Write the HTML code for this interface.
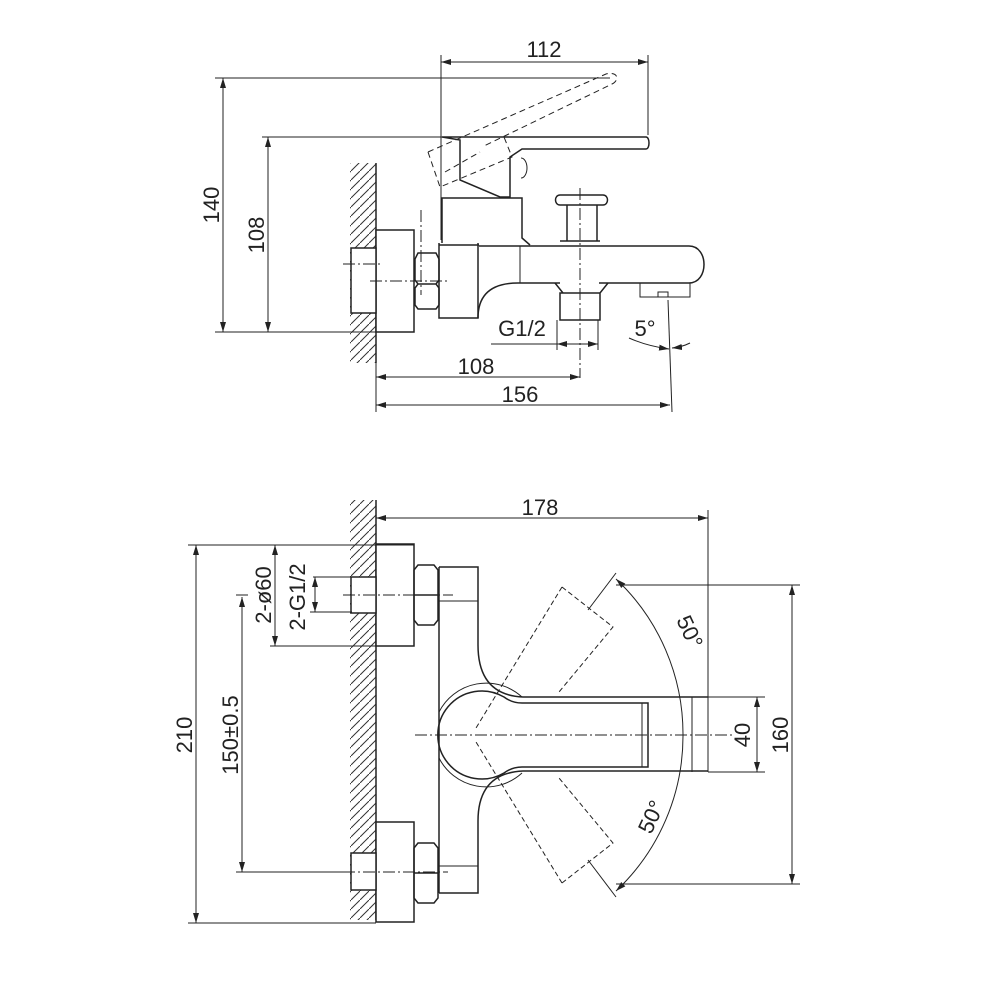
<!DOCTYPE html>
<html><head><meta charset="utf-8"><style>html,body{margin:0;padding:0;background:#fff}svg{display:block}</style></head><body>
<svg width="1000" height="1000" viewBox="0 0 1000 1000" xmlns="http://www.w3.org/2000/svg" font-family="Liberation Sans, sans-serif" font-size="22" fill="none" stroke="#222">
<defs>
<marker id="a" viewBox="0 0 10 6" refX="10" refY="3" markerWidth="10" markerHeight="6" orient="auto-start-reverse"><path d="M0,0L10,3L0,6z" fill="#222" stroke="none"/></marker>
<pattern id="h" width="9" height="9" patternUnits="userSpaceOnUse"><path d="M-1,10L10,-1" stroke="#333" stroke-width="1"/></pattern>
</defs>
<g stroke-width="1">
<!-- TOP VIEW -->
<rect x="350" y="163" width="26" height="200" fill="url(#h)" stroke="none"/>
<line x1="376" y1="163" x2="376" y2="363" stroke-width="1.5"/>
<rect x="376" y="230" width="38" height="102" fill="#fff" stroke-width="1.5"/>
<rect x="351" y="248" width="25" height="65" fill="#fff" stroke-width="1.5"/>
<path d="M418,253h18l3,6v21l-3,4h-18l-3,-4v-21zM418,284h18l3,4v17l-3,4h-18l-3,-4v-17z" stroke-width="1.5"/>
<path d="M439,243v75h39v-75M442,243v-45h80v40l8,7" stroke-width="1.5"/>
<path d="M439,245h40M478,318c0,-25 15,-35 40,-35h42" stroke-width="1.5"/>
<path d="M479,246h210c20,0 20,37 0,37h-90" stroke-width="1.5"/>
<path d="M520,246v37" />
<path d="M442,137h204c4,0 4,12 0,12h-124l-12,8v40h-10l-40,-17v-40z" stroke-width="1.5"/>
<path d="M521,158a6,10 0 0 1 0,20"/>
<path d="M560,195h43c6,0 6,10 0,10h-43c-6,0 -6,-10 0,-10zM567,205v36h30v-36M560,241h40" stroke-width="1.5"/>
<path d="M555,283l8,10h37l8,-10M560,293h40v27h-40z" stroke-width="1.5"/>
<path d="M640,283v14h50v-14M658,297v-5h10v5"/>
<path d="M428,152l178,-78c12,-3 14,6 6,10l-128,62M428,152l12,35l72,-30l-8,-20M445,172l35,-20" stroke-dasharray="6,4"/>
<path d="M343,264h40M370,281h80M421,210v85M580,188v190" stroke-dasharray="12,3,2,3"/>
<line x1="441" y1="55" x2="441" y2="240"/>
<line x1="648" y1="55" x2="648" y2="135"/>
<line x1="441" y1="62" x2="648" y2="62" marker-start="url(#a)" marker-end="url(#a)"/>
<text x="544" y="57" text-anchor="middle" fill="#222" stroke="none">112</text>
<line x1="215" y1="78" x2="610" y2="78"/>
<line x1="215" y1="332" x2="376" y2="332"/>
<line x1="262" y1="137" x2="442" y2="137"/>
<line x1="223" y1="78" x2="223" y2="332" marker-start="url(#a)" marker-end="url(#a)"/>
<line x1="268" y1="137" x2="268" y2="332" marker-start="url(#a)" marker-end="url(#a)"/>
<text transform="translate(219,205) rotate(-90)" text-anchor="middle" fill="#222" stroke="none">140</text>
<text transform="translate(264,235) rotate(-90)" text-anchor="middle" fill="#222" stroke="none">108</text>
<line x1="376" y1="332" x2="376" y2="412"/>
<line x1="580" y1="377" x2="376" y2="377" marker-start="url(#a)" marker-end="url(#a)"/>
<text x="476" y="374" text-anchor="middle" fill="#222" stroke="none">108</text>
<line x1="668" y1="300" x2="672" y2="412"/>
<line x1="376" y1="405" x2="670" y2="405" marker-start="url(#a)" marker-end="url(#a)"/>
<text x="520" y="402" text-anchor="middle" fill="#222" stroke="none">156</text>
<line x1="491" y1="344" x2="557" y2="344"/>
<line x1="557" y1="320" x2="557" y2="350"/><line x1="598" y1="320" x2="598" y2="350"/>
<line x1="557" y1="344" x2="598" y2="344" marker-start="url(#a)" marker-end="url(#a)"/>
<text x="522" y="336" text-anchor="middle" fill="#222" stroke="none">G1/2</text>
<path d="M629,338q18,8 40,11" marker-end="url(#a)"/>
<path d="M690,343q-8,4 -18,5" marker-end="url(#a)"/>
<text x="645" y="336" text-anchor="middle" fill="#222" stroke="none">5°</text>

<!-- BOTTOM VIEW -->
<rect x="350" y="500" width="26" height="420" fill="url(#h)" stroke="none"/>
<line x1="376" y1="500" x2="376" y2="920" stroke-width="1.5"/>
<rect x="376" y="544" width="38" height="102" fill="#fff" stroke-width="1.5"/>
<rect x="351" y="577" width="25" height="36" fill="#fff" stroke-width="1.5"/>
<rect x="376" y="822" width="38" height="100" fill="#fff" stroke-width="1.5"/>
<rect x="351" y="853" width="25" height="37" fill="#fff" stroke-width="1.5"/>
<path d="M418,565h16l4,5v50l-4,5h-16l-4,-5v-50zM414,595h24" stroke-width="1.5"/>
<path d="M418,843h16l4,5v50l-4,5h-16l-4,-5v-50zM414,873h24" stroke-width="1.5"/>
<path d="M439,567v326M439,567h39v78q0,50 45,52h185M439,893h39v-72q0,-48 45,-50h185" stroke-width="1.5"/>
<path d="M439,601h39M439,866h39"/>
<path d="M439,712A53,53 0 0 1 522,697M439,758A53,53 0 0 0 522,773"/>
<path d="M522,703h126v64h-126M522,703q-10,0 -18,-6A44,44 0 1 0 504,773q8,-6 18,-6" stroke-width="1.5"/>
<path d="M642,703v64"/>
<path d="M708,697v75M692,697v75"/>
<path d="M562,587L613,627L559,692M562,587L476,728M562,883L613,843L559,778M562,883L476,742" stroke-dasharray="5,3"/>
<path d="M343,595h110M343,872h105M415,735h320" stroke-dasharray="12,3,2,3"/>
<path d="M616,579A213,213 0 0 1 683,735" marker-start="url(#a)"/>
<path d="M683,735A213,213 0 0 1 616,891" marker-end="url(#a)"/>
<line x1="588" y1="610" x2="616" y2="573"/><line x1="588" y1="860" x2="616" y2="897"/>
<text transform="translate(683,635) rotate(65)" text-anchor="middle" fill="#222" stroke="none">50°</text>
<text transform="translate(658,820) rotate(-65)" text-anchor="middle" fill="#222" stroke="none">50°</text>
<line x1="708" y1="510" x2="708" y2="697"/>
<line x1="376" y1="518" x2="708" y2="518" marker-start="url(#a)" marker-end="url(#a)"/>
<text x="540" y="515" text-anchor="middle" fill="#222" stroke="none">178</text>
<line x1="188" y1="545" x2="414" y2="545"/>
<line x1="188" y1="923" x2="376" y2="923"/>
<line x1="196" y1="545" x2="196" y2="923" marker-start="url(#a)" marker-end="url(#a)"/>
<text transform="translate(192,735) rotate(-90)" text-anchor="middle" fill="#222" stroke="none">210</text>
<line x1="270" y1="646" x2="376" y2="646"/>
<line x1="275" y1="545" x2="275" y2="646" marker-start="url(#a)" marker-end="url(#a)"/>
<text transform="translate(271,595) rotate(-90)" text-anchor="middle" fill="#222" stroke="none">2-ø60</text>
<line x1="313" y1="577" x2="352" y2="577"/><line x1="310" y1="612" x2="352" y2="612"/>
<line x1="315" y1="577" x2="315" y2="612" marker-start="url(#a)" marker-end="url(#a)"/>
<text transform="translate(305,597) rotate(-90)" text-anchor="middle" fill="#222" stroke="none">2-G1/2</text>
<line x1="236" y1="595" x2="248" y2="595"/><line x1="236" y1="872" x2="352" y2="872"/>
<line x1="242" y1="597" x2="242" y2="872" marker-start="url(#a)" marker-end="url(#a)"/>
<text transform="translate(238,735) rotate(-90)" text-anchor="middle" fill="#222" stroke="none">150±0.5</text>
<line x1="708" y1="697" x2="765" y2="697"/><line x1="708" y1="772" x2="765" y2="772"/>
<line x1="757" y1="697" x2="757" y2="772" marker-start="url(#a)" marker-end="url(#a)"/>
<text transform="translate(750,735) rotate(-90)" text-anchor="middle" fill="#222" stroke="none">40</text>
<line x1="616" y1="585" x2="800" y2="585"/><line x1="616" y1="884" x2="800" y2="884"/>
<line x1="792" y1="585" x2="792" y2="884" marker-start="url(#a)" marker-end="url(#a)"/>
<text transform="translate(788,735) rotate(-90)" text-anchor="middle" fill="#222" stroke="none">160</text>
</g>
</svg>
</body></html>
